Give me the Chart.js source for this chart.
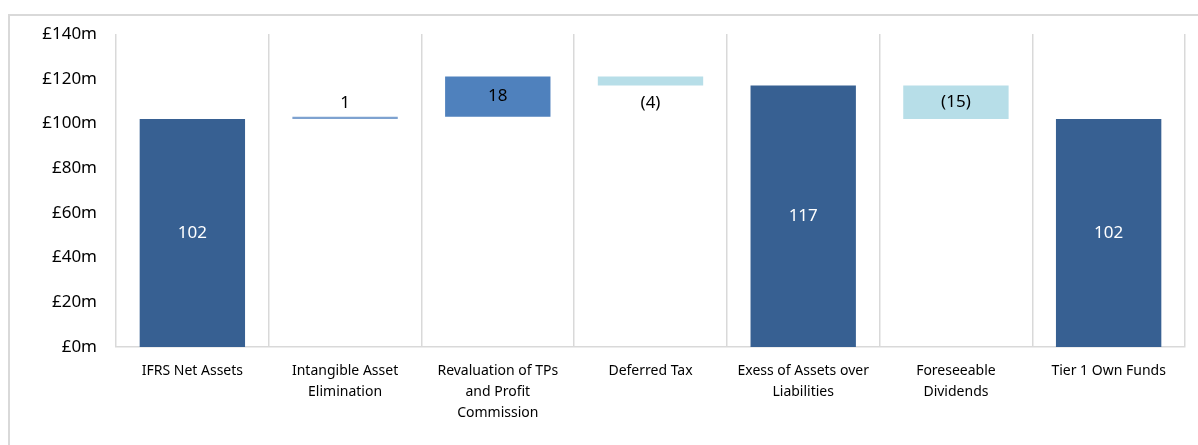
<!DOCTYPE html>
<html>
<head>
<meta charset="utf-8">
<script src="https://cdn.jsdelivr.net/npm/chart.js@4.4.1/dist/chart.umd.min.js"></script>
<style>
  html, body { margin: 0; padding: 0; background: #fff; }
  #frame { position: absolute; left: 8px; top: 14px; width: 1200px; height: 440px; border: 2px solid #d9d9d9; border-right: none; border-bottom: none; }
  #wrap { position: absolute; left: 0; top: 0; width: 1198px; height: 445px; }
</style>
</head>
<body>
<div id="frame"></div>
<div id="wrap"><canvas id="waterfall"></canvas></div>
<script>
// categories and movements (£m)
const categories = [
  "IFRS Net Assets",
  ["Intangible Asset", "Elimination"],
  ["Revaluation of TPs", "and Profit", "Commission"],
  "Deferred Tax",
  ["Exess of Assets over", "Liabilities"],
  ["Foreseeable", "Dividends"],
  "Tier 1 Own Funds"
];
const values = [102, 1, 18, -4, 117, -15, 102];
const isTotal = [true, false, false, false, true, false, true];
const valueLabels = ["102", "1", "18", "(4)", "117", "(15)", "102"];
const yTicks = [0, 20, 40, 60, 80, 100, 120, 140];

// build floating bars from running total
let running = 0;
const ranges = values.map((v, i) => {
  if (isTotal[i]) { running = v; return [0, v]; }
  const start = running;
  running += v;
  return [start, running];
});

const barColors = ["#376092", "#7ea2d0", "#4f81bd", "#b7dee8", "#376092", "#b7dee8", "#376092"];
const labelColors = ["#fff", "#000", "#000", "#000", "#fff", "#000", "#fff"];

// Value labels
const valueLabelPlugin = {
  id: "valueLabels",
  afterDatasetsDraw(chart) {
    const ctx = chart.ctx;
    const meta = chart.getDatasetMeta(0);
    ctx.save();
    ctx.font = "17px 'Noto Sans'";
    ctx.textAlign = "center";
    ctx.textBaseline = "middle";
    meta.data.forEach((bar, i) => {
      const top = Math.min(bar.y, bar.base);
      const bottom = Math.max(bar.y, bar.base);
      let y = (top + bottom) / 2;
      if (i === 1) y = top - 14;
      if (i === 3) y = bottom + 18;
      ctx.fillStyle = labelColors[i];
      ctx.fillText(valueLabels[i], bar.x, y);
    });
    ctx.restore();
  }
};

new Chart(document.getElementById("waterfall"), {
  type: "bar",
  data: {
    labels: categories,
    datasets: [{
      data: ranges,
      backgroundColor: barColors,
      categoryPercentage: 1,
      barPercentage: 0.69
    }]
  },
  options: {
    responsive: true,
    maintainAspectRatio: false,
    animation: false,
    layout: { padding: { left: 0, right: 13, top: 34, bottom: 0 } },
    plugins: { legend: { display: false }, tooltip: { enabled: false } },
    scales: {
      x: {
        grid: { display: true, offset: true, color: "#d9d9d9", lineWidth: 1.5, drawTicks: false },
        border: { color: "#d9d9d9", width: 1.5 },
        ticks: { color: "#000", font: { family: "'Noto Sans'", size: 14, lineHeight: 1.5 }, padding: 14, maxRotation: 0, autoSkip: false },
        afterFit: (scale) => { scale.height = 98; }
      },
      y: {
        min: 0,
        max: 140,
        afterBuildTicks: (scale) => { scale.ticks = yTicks.map(v => ({ value: v })); },
        grid: { display: false, drawTicks: false },
        border: { display: false },
        ticks: { color: "#000", font: { family: "'Noto Sans'", size: 17 }, padding: 19, callback: v => "£" + v + "m" },
        afterFit: (scale) => { scale.width = 116; }
      }
    }
  },
  plugins: [valueLabelPlugin]
});
</script>
</body>
</html>
